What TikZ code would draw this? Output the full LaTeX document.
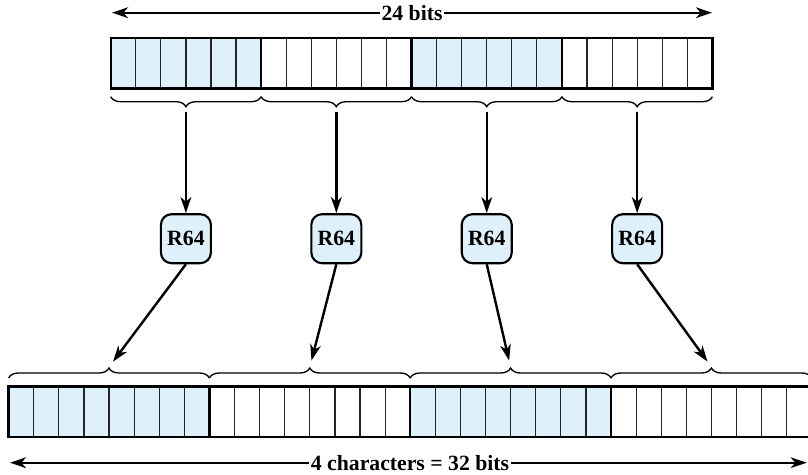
\documentclass[tikz,border=0pt]{standalone}
\usepackage{fontspec}
\setmainfont{Liberation Serif}
\usetikzlibrary{arrows.meta,decorations.pathreplacing}
\definecolor{cellblue}{RGB}{222,240,250}
\begin{document}
\begin{tikzpicture}[x=0.75pt,y=-0.75pt,
  lbl/.style={font=\bfseries\fontsize{16.3}{18}\selectfont, inner sep=1pt},
  rbox/.style={draw, line width=1.6pt, fill=cellblue, rounded corners=8pt,
    minimum width=37.5pt, minimum height=36.75pt, inner sep=0pt,
    font=\bfseries\fontsize{16.3}{18}\selectfont},
  conn/.style={line width=1.8pt, -{Stealth[length=12pt,width=8pt,inset=3.5pt]}},
  cellline/.style={line width=0.9pt, draw=black!85},
  barline/.style={line width=1.8pt},
  bracestyle/.style={decorate, decoration={brace, amplitude=7.5pt}, line width=1pt}
]
\useasboundingbox (0,0) rectangle (808,475);
\clip (0,0) rectangle (808,475);

% ---------- top bar (24 bits) ----------
\def\tx{110.7}
\def\tw{25.07}
\foreach \g in {0,2} {
  \fill[cellblue] ({\tx+\g*6*\tw},38) rectangle ({\tx+(\g+1)*6*\tw},88.3);
}
\foreach \i in {1,...,23} {
  \draw[cellline] ({\tx+\i*\tw},38) -- ({\tx+\i*\tw},88.3);
}
\foreach \i in {6,12,18} {
  \draw[barline] ({\tx+\i*\tw},38) -- ({\tx+\i*\tw},88.3);
}
\draw[barline] (\tx,38) rectangle ({\tx+24*\tw},88.3);

% top braces, tips and R64 boxes
\foreach \g in {0,...,3} {
  \draw[bracestyle] ({\tx+(\g+1)*6*\tw},96.7) -- ({\tx+\g*6*\tw},96.7);
  \coordinate (t\g) at ({\tx+(\g*6+3)*\tw},107);
  \node[rbox] (r\g) at ({\tx+(\g*6+3)*\tw},238.7) {R64};
  \draw[conn, shorten <=3.5pt] (t\g) -- (r\g.north);
}

% ---------- bottom bar (32 bits) ----------
\def\bx{8.6}
\def\bw{25.1}
\foreach \g in {0,2} {
  \fill[cellblue] ({\bx+\g*8*\bw},386.5) rectangle ({\bx+(\g+1)*8*\bw},436.7);
}
\foreach \i in {1,...,31} {
  \draw[cellline] ({\bx+\i*\bw},386.5) -- ({\bx+\i*\bw},436.7);
}
\foreach \i in {8,16,24} {
  \draw[barline] ({\bx+\i*\bw},386.5) -- ({\bx+\i*\bw},436.7);
}
\draw[barline] (\bx,386.5) rectangle ({\bx+32*\bw},436.7);

\foreach \g in {0,...,3} {
  \draw[bracestyle] ({\bx+\g*8*\bw},378) -- ({\bx+(\g+1)*8*\bw},378);
  \coordinate (b\g) at ({\bx+(\g*8+4)*\bw},367);
  \draw[conn, shorten >=5pt] (r\g.south) -- (b\g);
}

% ---------- dimension labels ----------
\node[lbl] (toplbl) at (412,12.7) {24 bits};
\coordinate (tl) at (112,12.7);
\coordinate (tr) at (712,12.7);
\draw[conn] (toplbl.west) -- (tl);
\draw[conn] (toplbl.east) -- (tr);

\node[lbl] (botlbl) at (410,462.7) {4 characters = 32 bits};
\coordinate (bl) at (10,462.7);
\coordinate (br) at (806.7,462.7);
\draw[conn] (botlbl.west) -- (bl);
\draw[conn] (botlbl.east) -- (br);
\end{tikzpicture}
\end{document}
